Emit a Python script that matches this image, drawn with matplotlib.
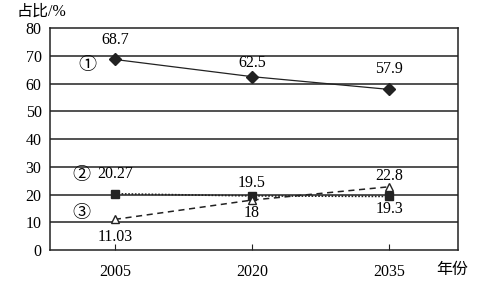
import matplotlib
matplotlib.use("Agg")
import matplotlib.pyplot as plt

plt.rcParams['font.family'] = ['Liberation Serif', 'Noto Sans CJK SC']

years = [2005, 2020, 2035]
s1 = [68.7, 62.5, 57.9]
s2 = [20.27, 19.5, 19.3]
s3 = [11.03, 18, 22.8]
s1_labels = ["68.7", "62.5", "57.9"]
s2_labels = ["20.27", "19.5", "19.3"]
s3_labels = ["11.03", "18", "22.8"]
yticks = list(range(0, 81, 10))

# label offsets in points (dy from the marker)
s1_dy = [14, 9.5, 15]
s2_dy = [14, 9.5, -9]
s3_dy = [-13, -9.5, 8]

fig = plt.figure(figsize=(4.85, 2.90), dpi=100)
ax = fig.add_axes([0.103, 0.138, 0.841, 0.765])

for v in yticks[1:-1]:
    ax.axhline(v, color='#222222', lw=1.1, zorder=1)

ax.plot(years, s1, color='#222222', lw=0.9, marker='D', ms=6,
        mfc='#222222', mec='#222222', zorder=3)
ax.plot(years, s2, color='#222222', lw=1.2, ls=(0, (1, 1)), marker='s', ms=6,
        mfc='#222222', mec='#222222', zorder=3)
ax.plot(years, s3, color='#222222', lw=1.1, ls=(0, (4, 3)), marker='^', ms=6,
        mfc='white', mec='#222222', mew=1.0, zorder=4)

for vals, labs, dys in [(s1, s1_labels, s1_dy), (s2, s2_labels, s2_dy), (s3, s3_labels, s3_dy)]:
    for x, y, t, dy in zip(years, vals, labs, dys):
        ax.annotate(t, (x, y), xytext=(0, dy), textcoords='offset points',
                    ha='center', va='center', fontsize=11.5)

ax.text(2002.0, 66.7, "①", ha='center', va='center', fontsize=13)
ax.text(2001.3, 27, "②", ha='center', va='center', fontsize=13)
ax.text(2001.3, 13.3, "③", ha='center', va='center', fontsize=13)

ax.set_xlim(1997.9, 2042.5)
ax.set_ylim(0, 80)
ax.set_yticks(yticks)
ax.set_xticks(years)
ax.tick_params(axis='y', length=0, labelsize=11.5, pad=6)
ax.tick_params(axis='x', direction='in', length=4, labelsize=11.5, pad=10, color='#222222')
for sp in ax.spines.values():
    sp.set_color('#222222')
    sp.set_linewidth(1.1)

fig.text(0.035, 0.958, "占比/%", fontsize=11.5, ha='left', va='center')
fig.text(0.932, 0.068, "年份", fontsize=11.5, ha='center', va='center')

fig.savefig("out.png", dpi=100)
